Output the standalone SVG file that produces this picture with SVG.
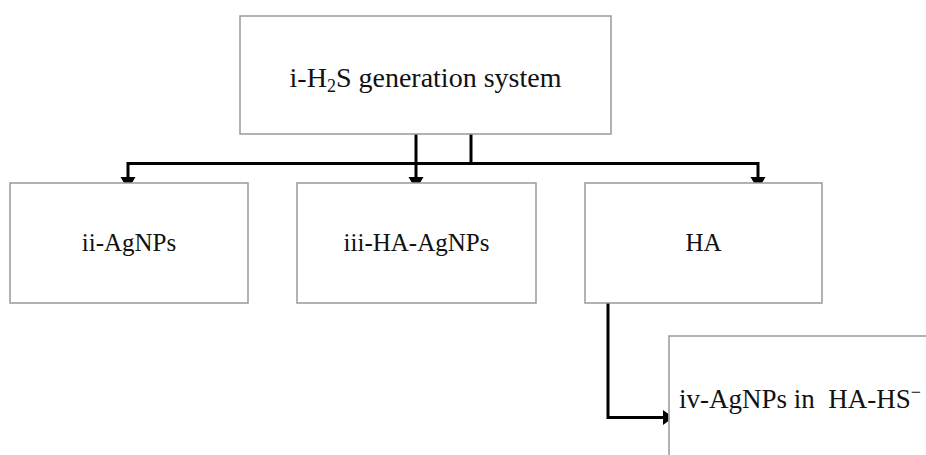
<svg xmlns="http://www.w3.org/2000/svg" width="926" height="455" viewBox="0 0 926 455">
<style>
.box{fill:#fff;stroke:#999;stroke-width:1.5}
.lbl{font-family:"Liberation Serif","Times New Roman",serif;font-size:25px;fill:#111;white-space:pre}
.big{font-size:28px}
.iv{font-size:27px}
.sub{font-size:18px}
.con{fill:none;stroke:#000;stroke-width:3;stroke-linejoin:miter}
.ah{fill:#000}
</style>
<rect width="926" height="455" fill="#fff"/>
<g id="connectors">
<path class="con" d="M416,134 V178"/>
<path class="con" d="M471,134 V163.5"/>
<path class="con" d="M128,163.5 H758"/>
<path class="con" d="M128,162 V178"/>
<path class="con" d="M758,162 V178"/>
<path class="con" d="M608,303 V417.5 H664"/>
<polygon class="ah" points="120.5,177 135.5,177 132,183 124,183"/>
<polygon class="ah" points="408.5,177 423.5,177 420,183 412,183"/>
<polygon class="ah" points="750.5,177 765.5,177 762,183 754,183"/>
<polygon class="ah" points="663,410 663,425 668.5,421 668.5,414"/>
</g>
<g id="node-i">
<rect class="box" x="240" y="16" width="371" height="118"/>
<text class="lbl big" x="425.5" y="87" text-anchor="middle">i-H<tspan class="sub" dy="5">2</tspan><tspan dy="-5">S generation system</tspan></text>
</g>
<g id="node-ii">
<rect class="box" x="10" y="183" width="238" height="120"/>
<text class="lbl" x="129" y="251" text-anchor="middle">ii-AgNPs</text>
</g>
<g id="node-iii">
<rect class="box" x="297" y="183" width="239" height="120"/>
<text class="lbl" x="416.5" y="251" text-anchor="middle">iii-HA-AgNPs</text>
</g>
<g id="node-ha">
<rect class="box" x="585" y="183" width="237" height="120"/>
<text class="lbl" x="703.5" y="251" text-anchor="middle">HA</text>
</g>
<g id="node-iv">
<rect class="box" x="669" y="336" width="280" height="140"/>
<text class="lbl iv" x="679" y="408">iv-AgNPs in  HA-HS<tspan class="sub" dy="-10">−</tspan></text>
</g>
</svg>
